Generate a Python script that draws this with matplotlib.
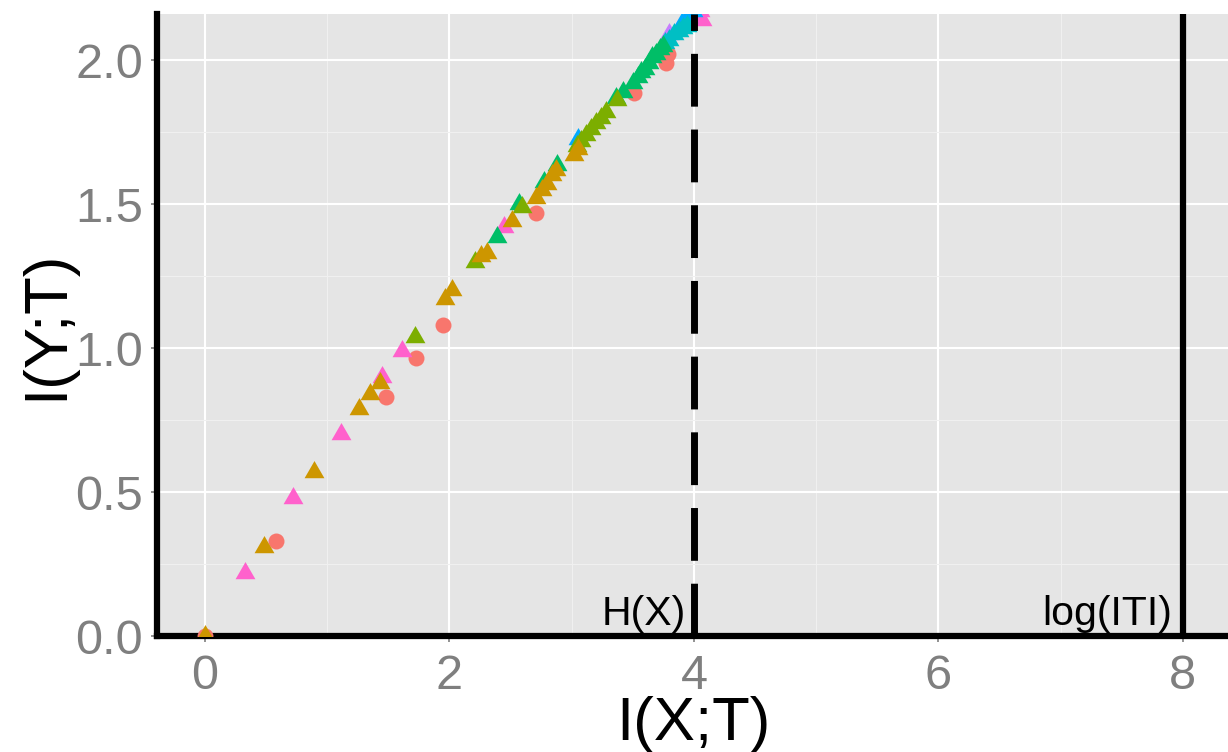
import matplotlib
matplotlib.use("Agg")
import matplotlib.pyplot as plt
from matplotlib.path import Path
from matplotlib.ticker import MultipleLocator
import numpy as np

plt.rcParams['font.family'] = ['Liberation Sans', 'DejaVu Sans']

# ---- data ----
red_x = [0.00, 0.58, 1.48, 1.73, 1.95, 2.71, 3.51, 3.77, 3.79]
red_y = [0.00, 0.33, 0.83, 0.965, 1.08, 1.47, 1.885, 1.99, 2.02]

pink_x = [0.33, 0.72, 1.11, 1.45, 1.61, 2.45, 4.05, 4.07]
pink_y = [0.22, 0.48, 0.70, 0.90, 0.99, 1.42, 2.17, 2.14]

purple_x = [3.80]
purple_y = [2.09]

blue_x = [3.05, 3.90, 3.95, 3.99]
blue_y = [1.725, 2.13, 2.15, 2.17]

cyan_x = [3.76, 3.80, 3.84, 3.88, 3.91, 3.94]
cyan_y = [2.06, 2.07, 2.09, 2.10, 2.11, 2.12]

green_x = [2.39, 2.57, 2.77, 2.88, 3.36, 3.42, 3.50, 3.54, 3.57, 3.60, 3.63, 3.66, 3.69, 3.72, 3.75]
green_y = [1.385, 1.50, 1.575, 1.635, 1.87, 1.89, 1.92, 1.94, 1.96, 1.97, 1.99, 2.01, 2.02, 2.04, 2.05]

olive_x = [1.72, 2.21, 2.59, 3.04, 3.08, 3.12, 3.16, 3.20, 3.24, 3.28, 3.37]
olive_y = [1.04, 1.30, 1.49, 1.70, 1.72, 1.74, 1.76, 1.78, 1.80, 1.82, 1.86]

gold_x = [0.00, 0.48, 0.89, 1.26, 1.35, 1.43, 1.96, 2.02, 2.26, 2.31, 2.51,
          2.71, 2.76, 2.80, 2.84, 2.87, 3.02, 3.05]
gold_y = [0.00, 0.31, 0.57, 0.79, 0.84, 0.88, 1.17, 1.20, 1.32, 1.33, 1.44,
          1.52, 1.55, 1.57, 1.60, 1.62, 1.67, 1.69]

h_x = 4.0        # H(X)
log_t = 8.0      # log(|T|)

x_ticks = [0, 2, 4, 6, 8]
y_ticks = [0.0, 0.5, 1.0, 1.5, 2.0]
y_tick_labels = ["0.0", "0.5", "1.0", "1.5", "2.0"]

# ---- figure ----
W, H = 1228, 752
fig = plt.figure(figsize=(W / 100, H / 100), dpi=100)
ax = fig.add_axes([157 / W, (H - 636) / H, (1228 - 157) / W, (636 - 14) / H])
ax.set_facecolor('#E5E5E5')
ax.set_xlim(-0.393, 8.37)
ax.set_ylim(0, 2.16)

# grid
ax.xaxis.set_minor_locator(MultipleLocator(1))
ax.yaxis.set_minor_locator(MultipleLocator(0.25))
ax.set_xticks(x_ticks)
ax.set_xticklabels([str(v) for v in x_ticks])
ax.set_yticks(y_ticks)
ax.set_yticklabels(y_tick_labels)
ax.grid(which='major', color='white', linewidth=1.5)
ax.grid(which='minor', color='#F0F0F0', linewidth=0.8)
ax.set_axisbelow(True)

for s in ['top', 'right']:
    ax.spines[s].set_visible(False)
for s in ['left', 'bottom']:
    ax.spines[s].set_linewidth(4.5)
    ax.spines[s].set_color('black')
ax.tick_params(which='major', length=4, width=1.2, color='#7F7F7F',
               labelcolor='#7F7F7F', labelsize=35)
ax.tick_params(axis='x', pad=9)
ax.tick_params(axis='y', pad=6)
ax.tick_params(which='minor', length=0)

# markers
tri = Path([(-1, -0.577), (1, -0.577), (0, 1.155), (-1, -0.577)],
           [Path.MOVETO, Path.LINETO, Path.LINETO, Path.CLOSEPOLY])
tri_size = 16.5
circ_size = 11.5

series = [
    (red_x, red_y, '#F8766D', 'o'),
    (pink_x, pink_y, '#FF61CC', tri),
    (purple_x, purple_y, '#C77CFF', tri),
    (blue_x, blue_y, '#00A9FF', tri),
    (cyan_x, cyan_y, '#00BFC4', tri),
    (green_x, green_y, '#00BE67', tri),
    (olive_x, olive_y, '#7CAE00', tri),
    (gold_x, gold_y, '#CD9600', tri),
]
for xs, ys, col, mk in series:
    ms = circ_size if mk == 'o' else tri_size
    ax.plot(xs, ys, linestyle='none', marker=mk, markersize=ms,
            color=col, markeredgewidth=0, zorder=3, clip_on=True)

# reference lines
ax.axvline(h_x, color='black', linewidth=5, dashes=(7.6, 3.3), zorder=4)
ax.axvline(log_t, color='black', linewidth=4.5, zorder=4)

ax.annotate('H(X)', xy=(h_x, 0), xytext=(-6.0, 8), textcoords='offset points',
            ha='right', va='baseline', fontsize=29.5, color='black')
ax.annotate('log(ITI)', xy=(log_t, 0), xytext=(-7.5, 8), textcoords='offset points',
            ha='right', va='baseline', fontsize=29.5, color='black')

# axis titles
fig.text(693 / W, 1 - 740 / H, 'I(X;T)', ha='center', va='baseline', fontsize=44.5)
fig.text(62 / W, 1 - 325 / H, 'I(Y;T)', rotation=90, rotation_mode='anchor',
         ha='center', va='baseline', fontsize=44.5)

fig.savefig('out.png', dpi=100)
